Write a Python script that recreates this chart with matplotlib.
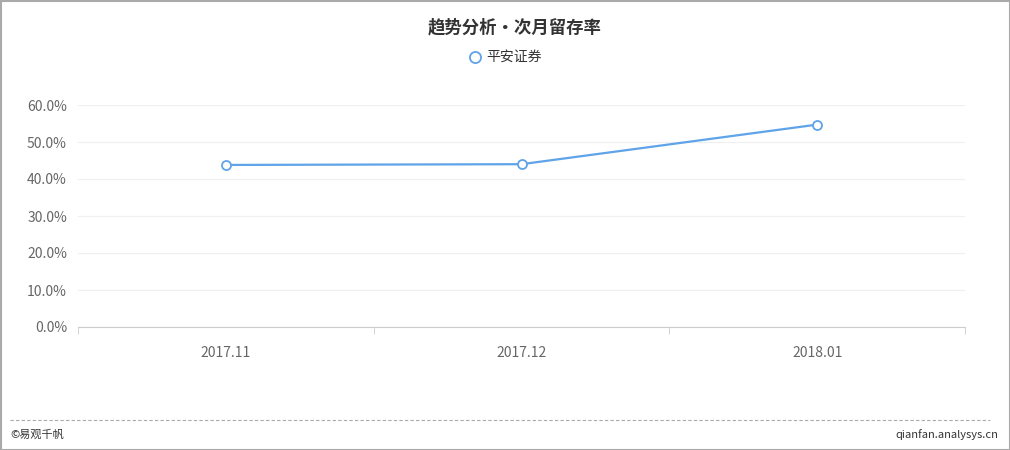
import matplotlib
matplotlib.use('Agg')
import matplotlib.pyplot as plt
from matplotlib.lines import Line2D
from matplotlib.patches import Rectangle

plt.rcParams['font.family'] = ['Noto Sans CJK SC', 'DejaVu Sans']

# data
months = ['2017.11', '2017.12', '2018.01']
retention = [43.8, 44.0, 54.7]
y_ticks = [0, 10, 20, 30, 40, 50, 60]
series_name = '平安证券'
title = '趋势分析•次月留存率'

LINE_COLOR = '#5fa3e8'

fig = plt.figure(figsize=(10.1, 4.5), dpi=100)
ax = fig.add_axes([78 / 1010, 1 - 327 / 450, (965 - 78) / 1010, (327 - 105) / 450])

x = list(range(len(months)))
ax.plot(x, retention, color=LINE_COLOR, lw=1.6, marker='o', ms=6.5,
        markerfacecolor='white', markeredgecolor=LINE_COLOR, markeredgewidth=1.3,
        zorder=3)

ax.set_xlim(-0.5, len(months) - 0.5)
ax.set_ylim(0, 60)
ax.set_yticks(y_ticks)
ax.set_yticklabels([f'{v:.1f}%' for v in y_ticks])
ax.set_xticks(x)
ax.set_xticklabels(months)
ax.set_xticks([i - 0.5 for i in range(len(months) + 1)], minor=True)

ax.grid(axis='y', color='#f0f0f0', lw=0.9)
ax.set_axisbelow(True)
for side in ['top', 'right', 'left']:
  ax.spines[side].set_visible(False)
ax.spines['bottom'].set_color('#cccccc')

ax.tick_params(axis='y', length=0, pad=8, labelsize=10, labelcolor='#666666')
ax.tick_params(axis='x', which='major', length=0, pad=14, labelsize=10, labelcolor='#666666')
ax.tick_params(axis='x', which='minor', length=5, color='#cccccc')

# title and legend
fig.text(515 / 1010, 1 - 27 / 450, title, ha='center', va='center', fontsize=12.5,
         fontweight='bold', color='#333333')
fig.add_artist(Line2D([475 / 1010], [1 - 57 / 450], marker='o', ms=8,
                      markerfacecolor='white', markeredgecolor=LINE_COLOR,
                      markeredgewidth=1.3, transform=fig.transFigure))
fig.text(486 / 1010, 1 - 57 / 450, series_name, ha='left', va='center',
         fontsize=10, color='#333333')

# footer
fig.add_artist(Line2D([10 / 1010, 990 / 1010], [1 - 420 / 450] * 2, color='#aaaaaa',
                      lw=0.8, ls=(0, (3, 2)), transform=fig.transFigure))
fig.text(10 / 1010, 1 - 435 / 450, '©易观千帆', ha='left', va='center',
         fontsize=8, color='#333333')
fig.text(998 / 1010, 1 - 435 / 450, 'qianfan.analysys.cn', ha='right', va='center',
         fontsize=8, color='#333333')

# outer border
fig.add_artist(Rectangle((0.5 / 1010, 0.5 / 450), 1 - 1 / 1010, 1 - 1 / 450,
                         fill=False, edgecolor='#aaaaaa', lw=1.5,
                         transform=fig.transFigure))

fig.savefig('out.png', dpi=100)
